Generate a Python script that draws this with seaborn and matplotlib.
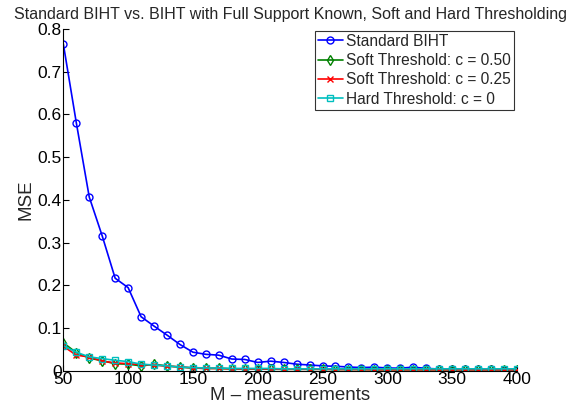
import matplotlib
matplotlib.use('Agg')
import matplotlib.pyplot as plt
import seaborn as sns
import pandas as pd

m = list(range(50, 401, 10))
standard = [0.765, 0.581, 0.407, 0.316, 0.217, 0.195, 0.127, 0.105, 0.084, 0.062,
            0.044, 0.039, 0.037, 0.028, 0.027, 0.020, 0.023, 0.020, 0.016, 0.014,
            0.012, 0.011, 0.0094, 0.008, 0.009, 0.007, 0.0066, 0.009, 0.006, 0.0047,
            0.0047, 0.004, 0.004, 0.004, 0.0035, 0.0035]
soft_50 = [0.066, 0.043, 0.030, 0.024, 0.017, 0.016, 0.012, 0.0155, 0.012, 0.009,
           0.007, 0.006, 0.006, 0.005, 0.005, 0.005, 0.004, 0.004, 0.004, 0.004,
           0.004, 0.0035, 0.0035, 0.0035, 0.003, 0.003, 0.003, 0.003, 0.003, 0.003,
           0.003, 0.003, 0.003, 0.003, 0.003, 0.003]
soft_25 = [0.058, 0.037, 0.033, 0.023, 0.019, 0.017, 0.015, 0.014, 0.011, 0.010,
           0.007, 0.006, 0.006, 0.005, 0.005, 0.005, 0.0045, 0.004, 0.004, 0.004,
           0.004, 0.0035, 0.0035, 0.0035, 0.003, 0.003, 0.003, 0.003, 0.003, 0.003,
           0.003, 0.003, 0.003, 0.003, 0.003, 0.003]
hard_0 = [0.059, 0.044, 0.033, 0.029, 0.025, 0.022, 0.016, 0.014, 0.012, 0.009,
          0.008, 0.007, 0.007, 0.006, 0.006, 0.006, 0.006, 0.005, 0.005, 0.005,
          0.005, 0.005, 0.005, 0.005, 0.005, 0.005, 0.005, 0.005, 0.005, 0.005,
          0.005, 0.005, 0.005, 0.005, 0.005, 0.005]

labels = ['Standard BIHT', 'Soft Threshold: c = 0.50',
          'Soft Threshold: c = 0.25', 'Hard Threshold: c = 0']
series = [standard, soft_50, soft_25, hard_0]
colors = ['#0000ff', '#008000', '#ff0000', '#00bfbf']
markers = ['o', 'd', 'x', 's']

df = pd.concat([pd.DataFrame({'M': m, 'MSE': v, 'method': l})
                for v, l in zip(series, labels)])

sns.set_style('white')
plt.rcParams['font.family'] = ['Liberation Sans', 'DejaVu Sans']

fig = plt.figure(figsize=(5.82, 4.13), dpi=100)
ax = fig.add_axes([0.1088, 0.1017, 0.7794, 0.8281])

for lab, col, mk in zip(labels, colors, markers):
    sub = df[df['method'] == lab]
    sns.lineplot(data=sub, x='M', y='MSE', ax=ax, color=col, marker=mk,
                 markersize=5, markerfacecolor='none', markeredgecolor=col,
                 markeredgewidth=1.0, linewidth=1.2, label=lab)

ax.set_xlim(50, 400)
ax.set_ylim(0, 0.8)
ax.set_xticks(range(50, 401, 50))
ax.set_yticks([0, 0.1, 0.2, 0.3, 0.4, 0.5, 0.6, 0.7, 0.8])
ax.set_yticklabels(['0', '0.1', '0.2', '0.3', '0.4', '0.5', '0.6', '0.7', '0.8'])
ax.tick_params(direction='in', length=4, width=0.8, labelsize=12.5, pad=1,
               colors='black', left=True, bottom=True)
for s in ['top', 'right']:
    ax.spines[s].set_visible(False)
for s in ['left', 'bottom']:
    ax.spines[s].set_color('black')
    ax.spines[s].set_linewidth(0.8)

ax.set_xlabel('M \u2013 measurements', fontsize=13.5, labelpad=0)
ax.set_ylabel('MSE', fontsize=13.5, labelpad=2)
ax.set_title('Standard BIHT vs. BIHT with Full Support Known, Soft and Hard Thresholding',
             fontsize=11.5, pad=7)

leg = ax.legend(loc='upper right', bbox_to_anchor=(0.996, 1.0), fontsize=11.2,
                frameon=True, fancybox=False, borderpad=0.2, labelspacing=0.28,
                handlelength=1.6, handletextpad=0.2, borderaxespad=0.1)
leg.get_frame().set_edgecolor('black')
leg.get_frame().set_linewidth(0.8)

fig.savefig('out.png', dpi=100)
